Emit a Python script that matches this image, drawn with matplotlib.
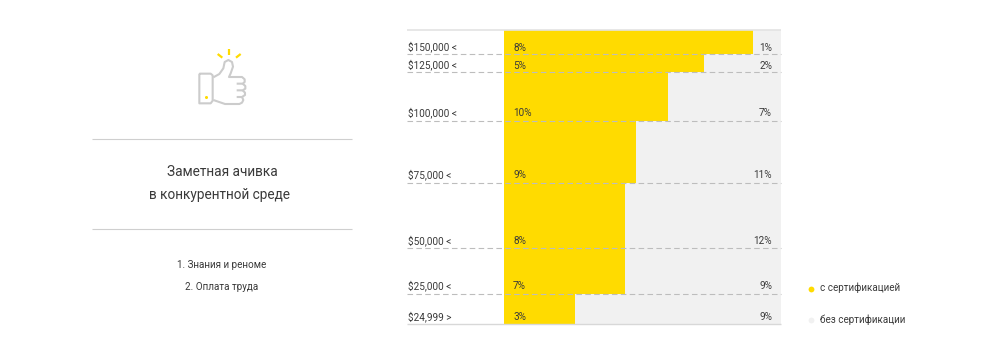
import matplotlib
matplotlib.use("Agg")
import matplotlib.pyplot as plt

plt.rcParams['font.family'] = ['Roboto', 'DejaVu Sans']
plt.rcParams['lines.solid_capstyle'] = 'butt'

W, H = 1001, 354

# Data
categories = ['$150,000 <', '$125,000 <', '$100,000 <', '$75,000 <', '$50,000 <', '$25,000 <', '$24,999 >']
certified_labels = ['8%', '5%', '10%', '9%', '8%', '7%', '3%']
uncertified_labels = ['1%', '2%', '7%', '11%', '12%', '9%', '9%']
row_heights = [7.9, 5.9, 16.1, 20.3, 21.3, 14.8, 9.8]        # share of respondents (row thickness)
certified_share = [90.0, 72.2, 59.2, 47.5, 43.7, 43.7, 25.5]  # % of the row width
legend_labels = ['с сертификацией', 'без сертификации']
left_title = ['Заметная ачивка', 'в конкурентной среде']
left_items = ['1. Знания и реноме', '2. Оплата труда']

YELLOW = '#FFDB00'
GREY = '#F1F1F1'
TEXT = '#3a3a3a'

fig = plt.figure(figsize=(W / 100, H / 100), dpi=100, facecolor='white')

# Overlay in pixel coordinates for the left panel, icon and legend
ov = fig.add_axes([0, 0, 1, 1])
ov.set_xlim(0, W)
ov.set_ylim(H, 0)
ov.axis('off')

# Main chart
px = lambda x, y, w, h: [x / W, 1 - (y + h) / H, w / W, h / H]
ax = fig.add_axes(px(504, 30, 277, 293.5))
ax.set_xlim(0, 100)
total = sum(row_heights)
ax.set_ylim(total, 0)
ax.axis('off')

LABEL_SIZE = 7.2
label_lift = [3.5, 3.5, 5.5, 5.5, 4.5, 4.5, 3.5]  # pixels above each row's lower edge
top = 0
for cat, lab_a, lab_b, h, s, lift in zip(categories, certified_labels, uncertified_labels,
                                         row_heights, certified_share, label_lift):
    ax.barh(top, s, height=h, align='edge', color=YELLOW, lw=0)
    ax.barh(top, 100 - s, left=s, height=h, align='edge', color=GREY, lw=0)
    bottom = top + h
    ax.annotate(cat, (0, bottom), xytext=(-96, lift), textcoords='offset pixels', fontsize=LABEL_SIZE,
                color=TEXT, va='baseline', ha='left', annotation_clip=False)
    ax.annotate(lab_a, (0, bottom), xytext=(9, lift), textcoords='offset pixels', fontsize=LABEL_SIZE,
                color=TEXT, va='baseline', ha='left')
    ax.annotate(lab_b, (100, bottom), xytext=(-9, lift), textcoords='offset pixels', fontsize=LABEL_SIZE,
                color=TEXT, va='baseline', ha='right')
    top = bottom

# Row separators span from the labels to the right edge
top = 0
for i, h in enumerate(row_heights):
    top += h
    y_px = 30 + top / total * 293.5
    if i < len(row_heights) - 1:
        ov.plot([407, 781], [y_px, y_px], color='#BDBDBD', lw=0.8, dashes=(5, 3), zorder=5)
ov.set_zorder(3)
ov.patch.set_visible(False)
ov.plot([407, 781], [29.5, 29.5], color='#E3E3E3', lw=1.2)
ov.plot([407, 781], [323.8, 323.8], color='#D8D8D8', lw=1.0)

# Left panel
ov.plot([92, 351.5], [139, 139], color='#CFCFCF', lw=0.8)
ov.plot([92, 351.5], [229, 229], color='#CFCFCF', lw=0.8)
ov.text(222, 172.5, left_title[0], fontsize=9.8, color=TEXT, ha='center', va='center')
ov.text(219.5, 194.5, left_title[1], fontsize=9.8, color=TEXT, ha='center', va='center')
ov.text(221.5, 265.5, left_items[0], fontsize=7.1, color=TEXT, ha='center', va='center')
ov.text(221.5, 287, left_items[1], fontsize=7.1, color=TEXT, ha='center', va='center')

# Icon (thumbs up)
c = '#CCCCCC'
Z = lambda pts: ([180 + p[0] / 3 for p in pts], [40 + p[1] / 3 for p in pts])
lw = 1.5
ov.plot(*Z([(58, 101), (92, 101), (98, 106), (98, 182), (92, 190), (58, 190), (58, 101)]), color=c, lw=lw)
ov.plot(*Z([(100, 112), (118, 102), (130, 85), (134, 66), (145, 60), (156, 66), (159, 80), (152, 100), (147, 111),
            (186, 111), (194, 118), (194, 126), (188, 131), (170, 131)]), color=c, lw=lw)
ov.plot(*Z([(188, 131), (196, 138), (196, 146), (188, 151), (170, 151)]), color=c, lw=lw)
ov.plot(*Z([(188, 151), (195, 158), (195, 165), (186, 171), (170, 171)]), color=c, lw=lw)
ov.plot(*Z([(186, 171), (190, 180), (186, 188), (178, 192), (135, 192), (100, 180)]), color=c, lw=lw)
for seg in ([(113, 42), (127, 53)], [(147, 28), (147, 45)], [(182, 42), (168, 53)]):
    ov.plot(*Z(seg), color=YELLOW, lw=1.6)
ov.plot(*Z([(78, 171)]), 'o', color=YELLOW, ms=2.2, mew=0)

# Legend
ov.plot([811], [288.5], 'o', color=YELLOW, ms=4.2, mew=0)
ov.plot([811], [320], 'o', color=GREY, ms=4.2, mew=0)
ov.text(820, 288, legend_labels[0], fontsize=7.15, color=TEXT, va='center')
ov.text(820, 320, legend_labels[1], fontsize=7.15, color=TEXT, va='center')

fig.savefig('out.png', dpi=100, facecolor='white')
